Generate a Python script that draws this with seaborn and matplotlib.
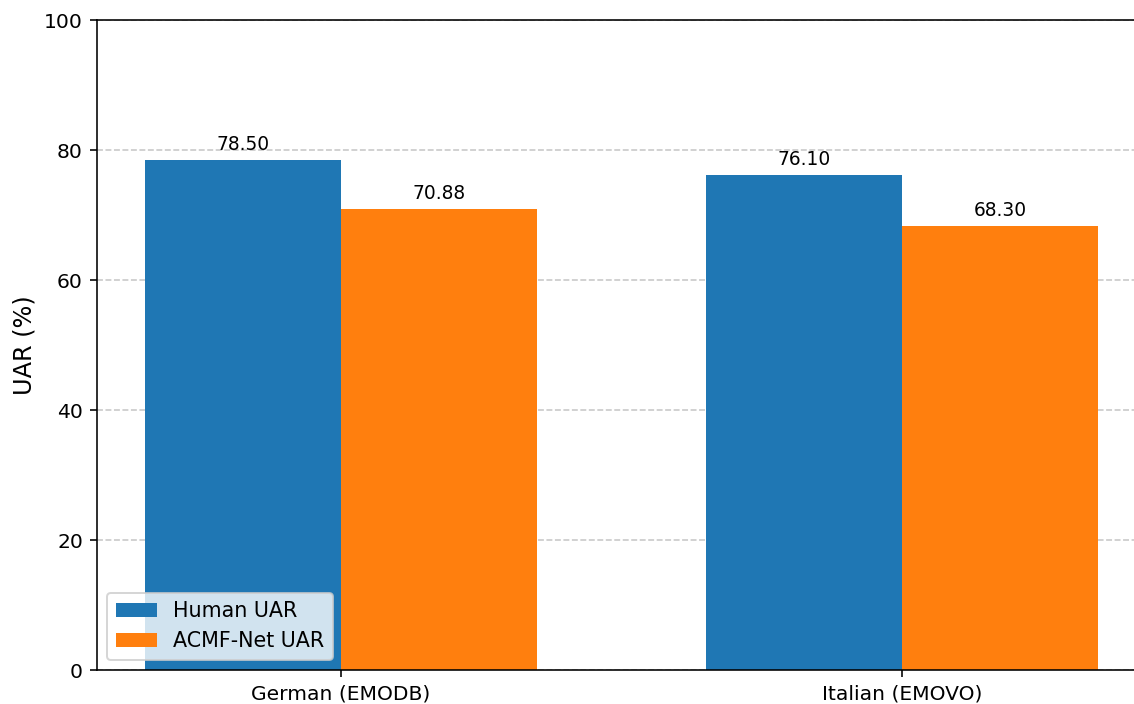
import matplotlib
matplotlib.use("Agg")
import matplotlib.pyplot as plt
import seaborn as sns
import pandas as pd

categories = ["German (EMODB)", "Italian (EMOVO)"]
series_names = ["Human UAR", "ACMF-Net UAR"]
human_uar = [78.50, 76.10]
acmf_uar = [70.88, 68.30]
colors = ["#1f77b4", "#ff7f0e"]

df = pd.DataFrame({
    "Dataset": categories * 2,
    "Model": [series_names[0]] * 2 + [series_names[1]] * 2,
    "UAR": human_uar + acmf_uar,
})

fig = plt.figure(figsize=(1134 / 144, 704 / 144), dpi=144)
ax = fig.add_axes([97 / 1134, 1 - 670 / 704, (1146 - 97) / 1134, 650 / 704])

sns.barplot(data=df, x="Dataset", y="UAR", hue="Model", order=categories,
            hue_order=series_names, palette=colors, saturation=1, width=0.7,
            errorbar=None, ax=ax)

for cont in ax.containers:
    ax.bar_label(cont, fmt="%.2f", padding=3, fontsize=9.3)

ax.set_ylim(0, 100)
ax.set_yticks([0, 20, 40, 60, 80, 100])
ax.set_xlim(-0.435, 1.435)
ax.set_xlabel("")
ax.set_ylabel("UAR (%)", fontsize=12)
ax.tick_params(labelsize=10.15)
ax.yaxis.grid(True, linestyle="--", alpha=0.7)
ax.set_axisbelow(True)
ax.legend(loc="lower left", fontsize=10.3)

fig.savefig("out.png", dpi=144)
